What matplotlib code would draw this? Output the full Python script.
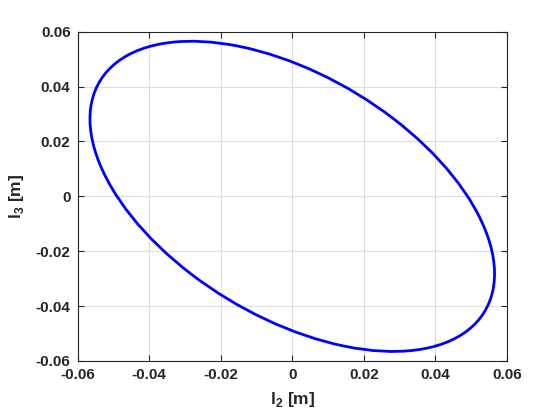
import matplotlib
matplotlib.use("Agg")
import matplotlib.pyplot as plt
from matplotlib.patches import Ellipse

# Data: ellipse of l2 vs l3
center = (0.0, 0.0)
semi_major = 0.0692   # along the l3 = -l2 direction
semi_minor = 0.0400
tilt_deg = -45.0
xticks = [-0.06, -0.04, -0.02, 0, 0.02, 0.04, 0.06]
yticks = [-0.06, -0.04, -0.02, 0, 0.02, 0.04, 0.06]
xtick_labels = ["-0.06", "-0.04", "-0.02", "0", "0.02", "0.04", "0.06"]
ytick_labels = ["-0.06", "-0.04", "-0.02", "0", "0.02", "0.04", "0.06"]

plt.rcParams['font.family'] = ['Liberation Sans', 'DejaVu Sans']
plt.rcParams['font.weight'] = 'bold'
plt.rcParams['mathtext.fontset'] = 'custom'
plt.rcParams['mathtext.bf'] = 'Liberation Sans:bold'
plt.rcParams['mathtext.rm'] = 'Liberation Sans:bold'

fig = plt.figure(figsize=(5.6, 4.2), dpi=100)
ax = fig.add_axes([0.1384, 0.1405, 0.767, 0.784])

ell = Ellipse(center, 2 * semi_major, 2 * semi_minor, angle=tilt_deg,
              fill=False, edgecolor=(0, 0, 1), linewidth=2.0, zorder=3)
ax.add_patch(ell)

ax.set_xlim(-0.06, 0.06)
ax.set_ylim(-0.06, 0.06)
ax.set_xticks(xticks)
ax.set_yticks(yticks)
ax.set_xticklabels(xtick_labels)
ax.set_yticklabels(ytick_labels)

dark = (0.15, 0.15, 0.15)
ax.grid(True, color=(0.87, 0.87, 0.87), linewidth=0.8, zorder=0)
ax.set_axisbelow(True)
for s in ax.spines.values():
    s.set_color(dark)
    s.set_linewidth(0.8)
ax.tick_params(direction='in', length=4, width=0.8, colors=dark,
               labelsize=11, top=True, right=True, pad=5)
for lab in ax.get_xticklabels() + ax.get_yticklabels():
    lab.set_fontweight('bold')

ax.set_xlabel(r'l$_\mathbf{2}$ [m]', fontsize=12.5, fontweight='bold', color=dark, labelpad=6)
ax.set_ylabel(r'l$_\mathbf{3}$ [m]', fontsize=12.5, fontweight='bold', color=dark, labelpad=7)

fig.savefig("out.png", dpi=100)
